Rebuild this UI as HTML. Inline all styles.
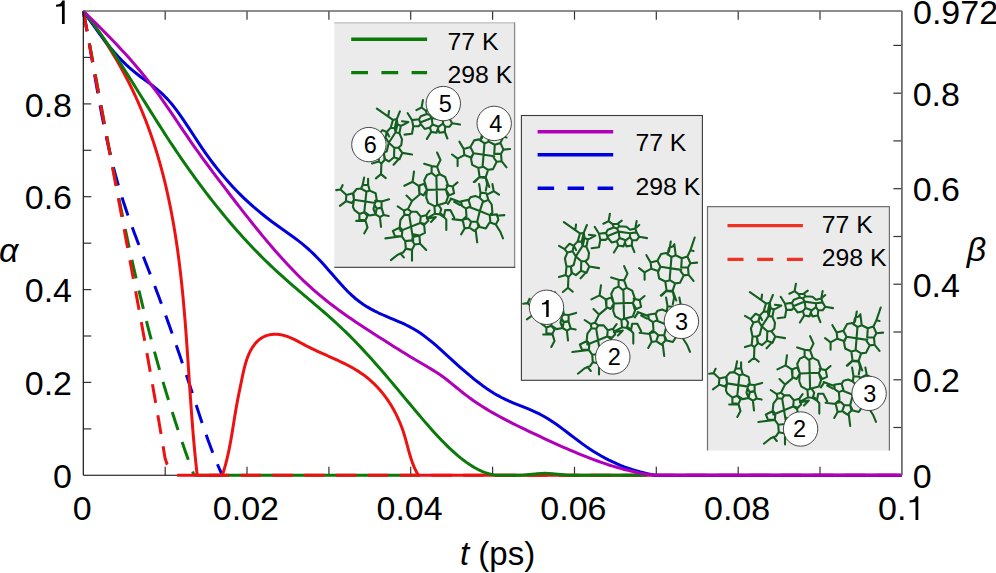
<!DOCTYPE html>
<html><head><meta charset="utf-8"><style>
html,body{margin:0;padding:0;background:#fff;overflow:hidden;}
svg{display:block;}
</style></head><body>
<svg width="996" height="573" viewBox="0 0 996 573">
<rect width="996" height="573" fill="#fff"/>
<g stroke="#333" stroke-width="1.2"><line x1="165.2" y1="475.3" x2="165.2" y2="466.8"/><line x1="165.2" y1="11.0" x2="165.2" y2="19.7"/><line x1="247.0" y1="475.3" x2="247.0" y2="466.8"/><line x1="247.0" y1="11.0" x2="247.0" y2="19.7"/><line x1="328.9" y1="475.3" x2="328.9" y2="466.8"/><line x1="328.9" y1="11.0" x2="328.9" y2="19.7"/><line x1="410.7" y1="475.3" x2="410.7" y2="466.8"/><line x1="410.7" y1="11.0" x2="410.7" y2="19.7"/><line x1="492.6" y1="475.3" x2="492.6" y2="466.8"/><line x1="492.6" y1="11.0" x2="492.6" y2="19.7"/><line x1="574.5" y1="475.3" x2="574.5" y2="466.8"/><line x1="574.5" y1="11.0" x2="574.5" y2="19.7"/><line x1="656.3" y1="475.3" x2="656.3" y2="466.8"/><line x1="656.3" y1="11.0" x2="656.3" y2="19.7"/><line x1="738.2" y1="475.3" x2="738.2" y2="466.8"/><line x1="738.2" y1="11.0" x2="738.2" y2="19.7"/><line x1="820.0" y1="475.3" x2="820.0" y2="466.8"/><line x1="820.0" y1="11.0" x2="820.0" y2="19.7"/><line x1="83.3" y1="428.9" x2="91.3" y2="428.9"/><line x1="83.3" y1="382.4" x2="91.3" y2="382.4"/><line x1="83.3" y1="336.0" x2="91.3" y2="336.0"/><line x1="83.3" y1="289.6" x2="91.3" y2="289.6"/><line x1="83.3" y1="243.2" x2="91.3" y2="243.2"/><line x1="83.3" y1="196.7" x2="91.3" y2="196.7"/><line x1="83.3" y1="150.3" x2="91.3" y2="150.3"/><line x1="83.3" y1="103.9" x2="91.3" y2="103.9"/><line x1="83.3" y1="57.4" x2="91.3" y2="57.4"/><line x1="901.9" y1="427.5" x2="893.4" y2="427.5"/><line x1="901.9" y1="379.8" x2="893.4" y2="379.8"/><line x1="901.9" y1="332.0" x2="893.4" y2="332.0"/><line x1="901.9" y1="284.2" x2="893.4" y2="284.2"/><line x1="901.9" y1="236.5" x2="893.4" y2="236.5"/><line x1="901.9" y1="188.7" x2="893.4" y2="188.7"/><line x1="901.9" y1="140.9" x2="893.4" y2="140.9"/><line x1="901.9" y1="93.2" x2="893.4" y2="93.2"/><line x1="901.9" y1="45.4" x2="893.4" y2="45.4"/></g>
<line x1="83.3" y1="475.3" x2="901.9" y2="475.3" stroke="#000" stroke-width="1.1"/>
<path d="M83.30,11.00 L84.04,14.90 L84.77,18.80 L85.50,22.71 L86.22,26.61 L86.92,30.51 L87.62,34.41 L88.31,38.31 L89.00,42.21 L89.68,46.12 L90.36,50.02 L91.03,53.92 L91.70,57.82 L92.37,61.72 L93.04,65.62 L93.71,69.53 L94.38,73.43 L95.05,77.33 L95.73,81.23 L96.41,85.13 L97.09,89.03 L97.79,92.94 L98.49,96.84 L99.19,100.74 L99.91,104.64 L100.64,108.54 L101.37,112.44 L102.12,116.35 L102.88,120.25 L103.66,124.15 L104.45,128.05 L105.26,131.95 L106.08,135.85 L106.92,139.76 L107.78,143.66 L108.66,147.56 L109.56,151.46 L110.48,155.36 L111.42,159.26 L112.39,163.17 L113.38,167.07 L114.40,170.97 L115.44,174.87 L116.51,178.77 L117.61,182.67 L118.73,186.58 L119.89,190.48 L121.08,194.38 L122.30,198.28 L123.55,202.18 L124.83,206.08 L126.14,209.99 L127.48,213.89 L128.85,217.79 L130.23,221.69 L131.64,225.59 L133.07,229.49 L134.52,233.40 L135.98,237.30 L137.45,241.20 L138.94,245.10 L140.44,249.00 L141.94,252.90 L143.45,256.81 L144.96,260.71 L146.48,264.61 L148.00,268.51 L149.51,272.41 L151.02,276.31 L152.53,280.22 L154.02,284.12 L155.51,288.02 L156.99,291.92 L158.46,295.82 L159.91,299.72 L161.36,303.63 L162.80,307.53 L164.23,311.43 L165.65,315.33 L167.06,319.23 L168.46,323.13 L169.86,327.04 L171.24,330.94 L172.62,334.84 L173.99,338.74 L175.35,342.64 L176.70,346.54 L178.05,350.45 L179.39,354.35 L180.72,358.25 L182.04,362.15 L183.36,366.05 L184.67,369.95 L185.98,373.86 L187.28,377.76 L188.57,381.66 L189.86,385.56 L191.14,389.46 L192.42,393.36 L193.69,397.27 L194.96,401.17 L196.22,405.07 L197.49,408.97 L198.77,412.87 L200.05,416.77 L201.34,420.68 L202.65,424.58 L203.98,428.48 L205.32,432.38 L206.69,436.28 L208.08,440.18 L209.51,444.09 L210.96,447.99 L212.45,451.89 L213.98,455.79 L215.55,459.69 L217.16,463.59 L218.82,467.50 L220.53,471.40 L222.30,475.30" fill="none" stroke="#0000dd" stroke-width="3" stroke-dasharray="19 12.5" stroke-dashoffset="-1.5" stroke-linejoin="round"/>
<path d="M83.30,11.00 L84.03,14.90 L84.78,18.80 L85.53,22.71 L86.28,26.61 L87.02,30.51 L87.76,34.41 L88.50,38.31 L89.24,42.21 L89.98,46.12 L90.71,50.02 L91.44,53.92 L92.17,57.82 L92.90,61.72 L93.63,65.62 L94.36,69.53 L95.09,73.43 L95.82,77.33 L96.54,81.23 L97.27,85.13 L98.00,89.03 L98.72,92.94 L99.45,96.84 L100.18,100.74 L100.91,104.64 L101.63,108.54 L102.36,112.44 L103.09,116.35 L103.82,120.25 L104.56,124.15 L105.29,128.05 L106.02,131.95 L106.76,135.85 L107.50,139.76 L108.24,143.66 L108.98,147.56 L109.73,151.46 L110.48,155.36 L111.23,159.26 L111.98,163.17 L112.73,167.07 L113.49,170.97 L114.25,174.87 L115.02,178.77 L115.79,182.67 L116.56,186.58 L117.33,190.48 L118.11,194.38 L118.90,198.28 L119.68,202.18 L120.48,206.08 L121.27,209.99 L122.07,213.89 L122.88,217.79 L123.69,221.69 L124.51,225.59 L125.33,229.49 L126.15,233.40 L126.98,237.30 L127.82,241.20 L128.67,245.10 L129.51,249.00 L130.37,252.90 L131.23,256.81 L132.10,260.71 L132.97,264.61 L133.85,268.51 L134.74,272.41 L135.64,276.31 L136.54,280.22 L137.45,284.12 L138.37,288.02 L139.29,291.92 L140.22,295.82 L141.16,299.72 L142.11,303.63 L143.07,307.53 L144.03,311.43 L145.00,315.33 L145.98,319.23 L146.97,323.13 L147.97,327.04 L148.98,330.94 L150.00,334.84 L151.03,338.74 L152.06,342.64 L153.11,346.54 L154.16,350.45 L155.23,354.35 L156.30,358.25 L157.39,362.15 L158.49,366.05 L159.59,369.95 L160.71,373.86 L161.84,377.76 L162.98,381.66 L164.13,385.56 L165.29,389.46 L166.46,393.36 L167.65,397.27 L168.84,401.17 L170.05,405.07 L171.27,408.97 L172.50,412.87 L173.75,416.77 L175.00,420.68 L176.27,424.58 L177.55,428.48 L178.85,432.38 L180.16,436.28 L181.48,440.18 L182.81,444.09 L184.16,447.99 L185.52,451.89 L186.90,455.79 L188.29,459.69 L189.69,463.59 L191.11,467.50 L192.54,471.40 L194.00,475.30" fill="none" stroke="#0a7a0a" stroke-width="3" stroke-dasharray="19 12.5" stroke-dashoffset="-1.5" stroke-linejoin="round"/>
<line x1="194" y1="475.3" x2="418" y2="475.3" stroke="#0a7a0a" stroke-width="3"/>
<path d="M83.30,11.00 L83.96,14.67 L84.63,18.34 L85.30,22.02 L85.98,25.69 L86.65,29.36 L87.33,33.03 L88.01,36.71 L88.69,40.38 L89.37,44.05 L90.05,47.72 L90.73,51.39 L91.41,55.07 L92.09,58.74 L92.77,62.41 L93.46,66.08 L94.14,69.76 L94.83,73.43 L95.51,77.10 L96.20,80.77 L96.89,84.45 L97.57,88.12 L98.26,91.79 L98.95,95.46 L99.64,99.13 L100.33,102.81 L101.02,106.48 L101.71,110.15 L102.40,113.82 L103.09,117.50 L103.78,121.17 L104.47,124.84 L105.16,128.51 L105.85,132.18 L106.54,135.86 L107.23,139.53 L107.93,143.20 L108.62,146.87 L109.31,150.55 L110.00,154.22 L110.69,157.89 L111.39,161.56 L112.08,165.24 L112.77,168.91 L113.46,172.58 L114.15,176.25 L114.85,179.92 L115.54,183.60 L116.23,187.27 L116.92,190.94 L117.61,194.61 L118.30,198.29 L118.99,201.96 L119.68,205.63 L120.37,209.30 L121.06,212.97 L121.75,216.65 L122.44,220.32 L123.13,223.99 L123.82,227.66 L124.51,231.34 L125.20,235.01 L125.88,238.68 L126.57,242.35 L127.25,246.03 L127.94,249.70 L128.62,253.37 L129.31,257.04 L129.99,260.71 L130.67,264.39 L131.36,268.06 L132.04,271.73 L132.72,275.40 L133.40,279.08 L134.08,282.75 L134.75,286.42 L135.43,290.09 L136.11,293.76 L136.78,297.44 L137.46,301.11 L138.13,304.78 L138.80,308.45 L139.48,312.13 L140.15,315.80 L140.82,319.47 L141.48,323.14 L142.15,326.82 L142.82,330.49 L143.48,334.16 L144.15,337.83 L144.81,341.50 L145.47,345.18 L146.13,348.85 L146.79,352.52 L147.45,356.19 L148.11,359.87 L148.76,363.54 L149.41,367.21 L150.07,370.88 L150.72,374.55 L151.37,378.23 L152.02,381.90 L152.66,385.57 L153.31,389.24 L153.95,392.92 L154.59,396.59 L155.23,400.26 L155.87,403.93 L156.51,407.61 L157.14,411.28 L157.78,414.95 L158.41,418.62 L159.04,422.29 L159.67,425.97 L160.30,429.64 L160.92,433.31 L161.54,436.98 L162.17,440.66 L162.78,444.33 L163.40,448.00 L165.00,458.00 L167.00,464.00 L169.50,467.80" fill="none" stroke="#ee1111" stroke-width="3" stroke-dasharray="19 12.5" stroke-dashoffset="-1.5" stroke-linejoin="round"/>
<line x1="176" y1="475.3" x2="901.9" y2="475.3" stroke="#ee1111" stroke-width="3" stroke-dasharray="20.3 11.5" stroke-dashoffset="-1.1"/>
<path d="M83.30,11.00 L85.72,14.12 L88.09,17.23 L90.42,20.35 L92.70,23.46 L94.95,26.58 L97.15,29.70 L99.32,32.81 L101.44,35.93 L103.53,39.04 L105.58,42.16 L107.59,45.28 L109.56,48.39 L111.50,51.51 L113.40,54.63 L115.26,57.74 L117.09,60.86 L118.88,63.97 L120.63,67.09 L122.35,70.21 L124.04,73.32 L125.69,76.44 L127.31,79.55 L128.90,82.67 L130.46,85.79 L131.98,88.90 L133.47,92.02 L134.93,95.13 L136.36,98.25 L137.76,101.37 L139.13,104.48 L140.47,107.60 L141.78,110.72 L143.06,113.83 L144.31,116.95 L145.54,120.06 L146.74,123.18 L147.91,126.30 L149.06,129.41 L150.18,132.53 L151.27,135.64 L152.34,138.76 L153.39,141.88 L154.41,144.99 L155.40,148.11 L156.38,151.22 L157.33,154.34 L158.26,157.46 L159.16,160.57 L160.05,163.69 L160.91,166.81 L161.75,169.92 L162.58,173.04 L163.38,176.15 L164.16,179.27 L164.93,182.39 L165.67,185.50 L166.40,188.62 L167.11,191.73 L167.80,194.85 L168.48,197.97 L169.14,201.08 L169.78,204.20 L170.41,207.31 L171.02,210.43 L171.62,213.55 L172.20,216.66 L172.77,219.78 L173.32,222.90 L173.86,226.01 L174.39,229.13 L174.90,232.24 L175.40,235.36 L175.88,238.48 L176.36,241.59 L176.82,244.71 L177.27,247.82 L177.71,250.94 L178.13,254.06 L178.55,257.17 L178.95,260.29 L179.35,263.40 L179.73,266.52 L180.10,269.64 L180.47,272.75 L180.82,275.87 L181.17,278.99 L181.51,282.10 L181.83,285.22 L182.15,288.33 L182.47,291.45 L182.77,294.57 L183.07,297.68 L183.36,300.80 L183.64,303.91 L183.92,307.03 L184.19,310.15 L184.45,313.26 L184.71,316.38 L184.97,319.49 L185.22,322.61 L185.46,325.73 L185.70,328.84 L185.93,331.96 L186.17,335.08 L186.39,338.19 L186.62,341.31 L186.84,344.42 L187.06,347.54 L187.28,350.66 L187.49,353.77 L187.70,356.89 L187.91,360.00 L188.12,363.12 L188.33,366.24 L188.54,369.35 L188.74,372.47 L188.95,375.58 L189.16,378.70 L189.37,381.82 L189.57,384.93 L189.78,388.05 L189.99,391.17 L190.21,394.28 L190.42,397.40 L190.64,400.51 L190.86,403.63 L191.08,406.75 L191.30,409.86 L191.53,412.98 L191.76,416.09 L192.00,419.21 L192.24,422.33 L192.48,425.44 L192.73,428.56 L192.98,431.67 L193.24,434.79 L193.51,437.91 L193.78,441.02 L194.05,444.14 L194.34,447.26 L194.63,450.37 L194.92,453.49 L195.23,456.60 L195.54,459.72 L195.86,462.84 L196.19,465.95 L196.52,469.07 L196.87,472.18 L197.20,475.30" fill="none" stroke="#ee1111" stroke-width="3" stroke-linejoin="round"/>
<line x1="197" y1="475.3" x2="223" y2="475.3" stroke="#ee1111" stroke-width="3"/>
<path d="M222.30,475.30 L222.89,473.52 L223.46,471.74 L224.01,469.94 L224.55,468.15 L225.06,466.34 L225.56,464.53 L226.04,462.71 L226.50,460.88 L226.95,459.05 L227.39,457.22 L227.81,455.38 L228.22,453.54 L228.61,451.69 L229.00,449.84 L229.37,447.99 L229.74,446.13 L230.09,444.27 L230.44,442.41 L230.77,440.55 L231.10,438.69 L231.43,436.82 L231.75,434.95 L232.06,433.09 L232.37,431.22 L232.67,429.36 L232.98,427.49 L233.28,425.63 L233.57,423.76 L233.87,421.90 L234.17,420.04 L234.47,418.19 L234.77,416.33 L235.07,414.48 L235.38,412.63 L235.69,410.79 L236.00,408.95 L236.32,407.12 L236.65,405.29 L236.98,403.46 L237.32,401.64 L237.66,399.82 L238.01,398.01 L238.37,396.20 L238.73,394.38 L239.09,392.57 L239.46,390.75 L239.83,388.93 L240.21,387.11 L240.59,385.28 L240.97,383.45 L241.36,381.61 L241.75,379.76 L242.13,377.90 L242.53,376.03 L242.92,374.15 L243.33,372.27 L243.76,370.39 L244.20,368.51 L244.67,366.64 L245.17,364.77 L245.70,362.91 L246.26,361.06 L246.87,359.23 L247.52,357.42 L248.23,355.63 L248.98,353.86 L249.80,352.12 L250.68,350.41 L251.62,348.74 L252.63,347.12 L253.70,345.56 L254.84,344.06 L256.05,342.64 L257.33,341.31 L258.67,340.07 L260.08,338.94 L261.56,337.93 L263.12,337.04 L264.74,336.27 L266.41,335.64 L268.14,335.13 L269.91,334.74 L271.70,334.46 L273.52,334.30 L275.35,334.25 L277.18,334.31 L279.00,334.48 L280.81,334.75 L282.60,335.11 L284.37,335.56 L286.12,336.10 L287.86,336.70 L289.59,337.38 L291.30,338.11 L293.01,338.89 L294.71,339.71 L296.41,340.56 L298.10,341.44 L299.80,342.34 L301.49,343.25 L303.19,344.17 L304.89,345.08 L306.60,345.97 L308.31,346.85 L310.04,347.71 L311.77,348.56 L313.50,349.39 L315.24,350.21 L316.98,351.03 L318.73,351.83 L320.47,352.62 L322.22,353.41 L323.97,354.19 L325.72,354.97 L327.46,355.75 L329.21,356.53 L330.95,357.30 L332.68,358.08 L334.41,358.86 L336.14,359.65 L337.85,360.44 L339.56,361.24 L341.27,362.04 L342.96,362.86 L344.64,363.69 L346.31,364.53 L347.97,365.38 L349.62,366.26 L351.26,367.14 L352.88,368.05 L354.48,368.97 L356.07,369.92 L357.64,370.89 L359.20,371.88 L360.73,372.90 L362.25,373.94 L363.74,375.01 L365.22,376.11 L366.67,377.24 L368.10,378.40 L369.51,379.58 L370.90,380.80 L372.27,382.04 L373.61,383.31 L374.93,384.61 L376.23,385.93 L377.51,387.28 L378.76,388.65 L379.99,390.04 L381.20,391.46 L382.38,392.90 L383.54,394.36 L384.68,395.85 L385.80,397.35 L386.89,398.88 L387.96,400.42 L389.00,401.98 L390.02,403.56 L391.02,405.16 L391.99,406.78 L392.94,408.41 L393.86,410.06 L394.76,411.72 L395.63,413.40 L396.48,415.09 L397.31,416.80 L398.11,418.52 L398.89,420.25 L399.64,421.99 L400.36,423.74 L401.06,425.51 L401.74,427.28 L402.39,429.06 L403.01,430.85 L403.61,432.65 L404.18,434.46 L404.73,436.27 L405.26,438.09 L405.77,439.91 L406.28,441.73 L406.77,443.56 L407.26,445.39 L407.75,447.21 L408.24,449.03 L408.74,450.85 L409.25,452.67 L409.77,454.47 L410.31,456.28 L410.87,458.07 L411.45,459.86 L412.06,461.63 L412.71,463.39 L413.38,465.14 L414.10,466.88 L414.86,468.60 L415.67,470.30 L416.53,471.98 L417.44,473.65 L418.40,475.30" fill="none" stroke="#ee1111" stroke-width="3" stroke-linejoin="round"/>
<line x1="417" y1="475.3" x2="901.9" y2="475.3" stroke="#ee1111" stroke-width="3"/>
<path d="M83.30,11.00 L87.14,16.43 L90.97,21.86 L94.81,27.23 L98.65,32.52 L102.48,37.67 L106.32,42.67 L110.16,47.46 L114.00,52.02 L117.83,56.31 L121.67,60.33 L125.51,64.11 L129.34,67.65 L133.18,70.95 L137.02,74.04 L140.85,76.97 L144.69,79.81 L148.53,82.64 L152.36,85.54 L156.20,88.59 L160.04,91.86 L163.88,95.43 L167.71,99.38 L171.55,103.79 L175.39,108.64 L179.22,113.86 L183.06,119.38 L186.90,125.09 L190.73,130.93 L194.57,136.80 L198.41,142.63 L202.24,148.33 L206.08,153.83 L209.92,159.13 L213.76,164.23 L217.59,169.13 L221.43,173.85 L225.27,178.38 L229.10,182.74 L232.94,186.94 L236.78,190.97 L240.61,194.85 L244.45,198.59 L248.29,202.18 L252.12,205.64 L255.96,208.98 L259.80,212.19 L263.63,215.29 L267.47,218.29 L271.31,221.18 L275.15,223.99 L278.98,226.74 L282.82,229.45 L286.66,232.17 L290.49,234.92 L294.33,237.74 L298.17,240.65 L302.00,243.68 L305.84,246.87 L309.68,250.25 L313.51,253.85 L317.35,257.70 L321.19,261.78 L325.03,266.05 L328.86,270.42 L332.70,274.85 L336.54,279.25 L340.37,283.57 L344.21,287.75 L348.05,291.71 L351.88,295.40 L355.72,298.75 L359.56,301.76 L363.39,304.47 L367.23,306.91 L371.07,309.12 L374.91,311.14 L378.74,313.01 L382.58,314.75 L386.42,316.41 L390.25,318.03 L394.09,319.63 L397.93,321.26 L401.76,322.95 L405.60,324.73 L409.44,326.66 L413.27,328.75 L417.11,331.05 L420.95,333.59 L424.79,336.35 L428.62,339.32 L432.46,342.45 L436.30,345.71 L440.13,349.09 L443.97,352.54 L447.81,356.04 L451.64,359.56 L455.48,363.07 L459.32,366.53 L463.15,369.92 L466.99,373.23 L470.83,376.45 L474.67,379.56 L478.50,382.55 L482.34,385.42 L486.18,388.15 L490.01,390.74 L493.85,393.17 L497.69,395.44 L501.52,397.53 L505.36,399.44 L509.20,401.20 L513.03,402.84 L516.87,404.40 L520.71,405.92 L524.54,407.43 L528.38,408.98 L532.22,410.60 L536.06,412.33 L539.89,414.20 L543.73,416.25 L547.57,418.51 L551.40,420.96 L555.24,423.58 L559.08,426.32 L562.91,429.15 L566.75,432.05 L570.59,434.98 L574.42,437.90 L578.26,440.79 L582.10,443.62 L585.94,446.35 L589.77,448.95 L593.61,451.42 L597.45,453.77 L601.28,455.99 L605.12,458.09 L608.96,460.07 L612.79,461.93 L616.63,463.67 L620.47,465.29 L624.30,466.80 L628.14,468.20 L631.98,469.49 L635.82,470.68 L639.65,471.78 L643.49,472.78 L647.33,473.70 L651.16,474.54 L655.00,475.30 L901.9,475.3" fill="none" stroke="#0000dd" stroke-width="3" stroke-linejoin="round"/>
<path d="M83.30,11.00 L86.10,14.47 L88.89,18.04 L91.69,21.70 L94.49,25.44 L97.28,29.27 L100.08,33.17 L102.88,37.15 L105.67,41.19 L108.47,45.29 L111.27,49.46 L114.06,53.67 L116.86,57.93 L119.66,62.24 L122.45,66.58 L125.25,70.96 L128.05,75.36 L130.84,79.80 L133.64,84.25 L136.44,88.71 L139.23,93.19 L142.03,97.67 L144.83,102.15 L147.62,106.62 L150.42,111.09 L153.22,115.55 L156.01,119.98 L158.81,124.39 L161.61,128.78 L164.40,133.13 L167.20,137.45 L170.00,141.72 L172.79,145.95 L175.59,150.13 L178.39,154.26 L181.18,158.35 L183.98,162.39 L186.78,166.39 L189.57,170.34 L192.37,174.24 L195.17,178.10 L197.96,181.92 L200.76,185.69 L203.56,189.41 L206.35,193.09 L209.15,196.73 L211.95,200.32 L214.74,203.86 L217.54,207.37 L220.34,210.82 L223.13,214.24 L225.93,217.61 L228.73,220.93 L231.52,224.21 L234.32,227.45 L237.12,230.65 L239.91,233.80 L242.71,236.90 L245.51,239.97 L248.30,242.99 L251.10,245.97 L253.90,248.91 L256.69,251.80 L259.49,254.65 L262.29,257.46 L265.08,260.23 L267.88,262.95 L270.68,265.63 L273.47,268.27 L276.27,270.87 L279.07,273.43 L281.86,275.96 L284.66,278.45 L287.46,280.91 L290.25,283.36 L293.05,285.77 L295.84,288.18 L298.64,290.56 L301.44,292.94 L304.23,295.31 L307.03,297.68 L309.83,300.04 L312.62,302.41 L315.42,304.79 L318.22,307.18 L321.01,309.58 L323.81,312.00 L326.61,314.44 L329.40,316.90 L332.20,319.40 L335.00,321.92 L337.79,324.49 L340.59,327.09 L343.39,329.73 L346.18,332.42 L348.98,335.16 L351.78,337.95 L354.57,340.79 L357.37,343.69 L360.17,346.63 L362.96,349.62 L365.76,352.65 L368.56,355.71 L371.35,358.82 L374.15,361.96 L376.95,365.14 L379.74,368.34 L382.54,371.57 L385.34,374.83 L388.13,378.10 L390.93,381.40 L393.73,384.71 L396.52,388.04 L399.32,391.38 L402.12,394.73 L404.91,398.09 L407.71,401.44 L410.51,404.80 L413.30,408.15 L416.10,411.49 L418.90,414.81 L421.69,418.10 L424.49,421.36 L427.29,424.59 L430.08,427.77 L432.88,430.90 L435.68,433.98 L438.47,436.99 L441.27,439.94 L444.07,442.81 L446.86,445.60 L449.66,448.30 L452.46,450.92 L455.25,453.43 L458.05,455.84 L460.85,458.14 L463.64,460.32 L466.44,462.38 L469.24,464.31 L472.03,466.11 L474.83,467.77 L477.63,469.27 L480.42,470.63 L483.22,471.82 L486.02,472.85 L488.81,473.71 L491.61,474.39 L494.41,474.89 L497.20,475.20 L500.00,475.30 L522.0,475.3" fill="none" stroke="#0a7a0a" stroke-width="3" stroke-linejoin="round"/>
<path d="M522.0,475.3 C524.2,475.1 531.2,474.4 535.0,474.0 C538.8,473.6 541.7,473.2 545.0,473.2 C548.3,473.2 551.2,473.6 555.0,474.0 C558.8,474.4 565.8,475.1 568.0,475.3 L647.0,475.3" fill="none" stroke="#0a7a0a" stroke-width="3" stroke-linejoin="round"/>
<path d="M83.30,11.00 L87.14,14.77 L90.97,18.54 L94.81,22.32 L98.65,26.13 L102.48,29.97 L106.32,33.85 L110.16,37.77 L114.00,41.75 L117.83,45.79 L121.67,49.90 L125.51,54.09 L129.34,58.37 L133.18,62.73 L137.02,67.20 L140.85,71.79 L144.69,76.48 L148.53,81.31 L152.36,86.26 L156.20,91.36 L160.04,96.61 L163.88,102.01 L167.71,107.54 L171.55,113.17 L175.39,118.86 L179.22,124.57 L183.06,130.29 L186.90,135.96 L190.73,141.57 L194.57,147.07 L198.41,152.47 L202.24,157.77 L206.08,163.00 L209.92,168.17 L213.76,173.28 L217.59,178.36 L221.43,183.42 L225.27,188.46 L229.10,193.49 L232.94,198.49 L236.78,203.47 L240.61,208.41 L244.45,213.32 L248.29,218.19 L252.12,223.01 L255.96,227.78 L259.80,232.49 L263.63,237.14 L267.47,241.73 L271.31,246.24 L275.15,250.68 L278.98,255.04 L282.82,259.31 L286.66,263.49 L290.49,267.57 L294.33,271.56 L298.17,275.44 L302.00,279.21 L305.84,282.87 L309.68,286.40 L313.51,289.83 L317.35,293.15 L321.19,296.37 L325.03,299.50 L328.86,302.55 L332.70,305.51 L336.54,308.39 L340.37,311.21 L344.21,313.96 L348.05,316.66 L351.88,319.30 L355.72,321.90 L359.56,324.47 L363.39,326.99 L367.23,329.50 L371.07,331.98 L374.91,334.45 L378.74,336.91 L382.58,339.36 L386.42,341.81 L390.25,344.24 L394.09,346.67 L397.93,349.08 L401.76,351.47 L405.60,353.84 L409.44,356.19 L413.27,358.51 L417.11,360.80 L420.95,363.06 L424.79,365.30 L428.62,367.56 L432.46,369.87 L436.30,372.28 L440.13,374.83 L443.97,377.54 L447.81,380.47 L451.64,383.58 L455.48,386.77 L459.32,389.94 L463.15,393.00 L466.99,395.93 L470.83,398.74 L474.67,401.43 L478.50,404.02 L482.34,406.50 L486.18,408.89 L490.01,411.19 L493.85,413.41 L497.69,415.56 L501.52,417.65 L505.36,419.68 L509.20,421.65 L513.03,423.59 L516.87,425.48 L520.71,427.35 L524.54,429.19 L528.38,431.03 L532.22,432.85 L536.06,434.66 L539.89,436.47 L543.73,438.27 L547.57,440.05 L551.40,441.82 L555.24,443.58 L559.08,445.31 L562.91,447.02 L566.75,448.70 L570.59,450.36 L574.42,451.99 L578.26,453.59 L582.10,455.15 L585.94,456.68 L589.77,458.17 L593.61,459.61 L597.45,461.02 L601.28,462.38 L605.12,463.69 L608.96,464.95 L612.79,466.16 L616.63,467.31 L620.47,468.41 L624.30,469.44 L628.14,470.42 L631.98,471.33 L635.82,472.17 L639.65,472.95 L643.49,473.65 L647.33,474.28 L651.16,474.83 L655.00,475.30 L901.9,475.3" fill="none" stroke="#b000b8" stroke-width="3" stroke-linejoin="round"/>
<line x1="83.3" y1="11.0" x2="83.3" y2="475.3" stroke="#111" stroke-width="1.2"/>
<line x1="83.3" y1="11.0" x2="901.9" y2="11.0" stroke="#666" stroke-width="1.6"/>
<line x1="901.9" y1="11.0" x2="901.9" y2="475.3" stroke="#666" stroke-width="1.7"/>
<rect x="334.3" y="22.4" width="180.4" height="245" fill="#ebebeb"/><line x1="334.3" y1="22.9" x2="514.7" y2="22.9" stroke="#b2b2b2" stroke-width="1"/><line x1="514.6" y1="22.4" x2="514.6" y2="267.9" stroke="#8a8a8a" stroke-width="1.3"/><line x1="334.3" y1="267.4" x2="515.2" y2="267.4" stroke="#505050" stroke-width="1.1"/>
<rect x="521.4" y="115.5" width="181" height="264.8" fill="#ebebeb" stroke="#3a3a3a" stroke-width="1.1"/>
<rect x="707.5" y="206.6" width="181.9" height="244" fill="#ebebeb"/><path d="M707.5,450.6 V206.6 H889.4 V450.6" fill="none" stroke="#707070" stroke-width="1.2"/>
<line x1="351.2" y1="39.2" x2="427.1" y2="39.2" stroke="#0a7a0a" stroke-width="3.4"/>
<line x1="351.2" y1="72.6" x2="427.1" y2="72.6" stroke="#0a7a0a" stroke-width="3.4" stroke-dasharray="16.8 13.4"/>
<line x1="537.6" y1="131.8" x2="613.2" y2="131.8" stroke="#b000b8" stroke-width="3.4"/>
<line x1="537.6" y1="154.8" x2="613.2" y2="154.8" stroke="#0000dd" stroke-width="3.4"/>
<line x1="537.6" y1="188.2" x2="613.2" y2="188.2" stroke="#0000dd" stroke-width="3.4" stroke-dasharray="16.5 13.5"/>
<line x1="727.5" y1="225.6" x2="802.9" y2="225.6" stroke="#ee3322" stroke-width="3.4"/>
<line x1="727.5" y1="259.4" x2="802.9" y2="259.4" stroke="#ee3322" stroke-width="3.4" stroke-dasharray="16 13.7"/>
<text x="447.5" y="50" font-family="Liberation Sans" font-size="24.8" text-anchor="start" >77 K</text>
<text x="447.5" y="83.4" font-family="Liberation Sans" font-size="24.8" text-anchor="start" >298 K</text>
<text x="635.4" y="151.1" font-family="Liberation Sans" font-size="24.8" text-anchor="start" >77 K</text>
<text x="635.4" y="194.5" font-family="Liberation Sans" font-size="24.8" text-anchor="start" >298 K</text>
<text x="821.7" y="232.9" font-family="Liberation Sans" font-size="24.8" text-anchor="start" >77 K</text>
<text x="821.7" y="266.3" font-family="Liberation Sans" font-size="24.8" text-anchor="start" >298 K</text>
<text x="878.1" y="520.2" font-family="Liberation Sans" font-size="34" text-anchor="start" >0.</text>
<path d="M918.30,496.30 L918.30,520.00 L915.50,520.00 L915.50,502.11 C912.87,502.34 911.28,502.51 909.53,502.58 L909.53,500.52 C913.48,500.33 915.20,498.67 915.78,496.30 Z" fill="#000"/>
<text x="82.2" y="520.2" font-family="Liberation Sans" font-size="34" text-anchor="middle" >0</text>
<text x="245.9" y="520.2" font-family="Liberation Sans" font-size="34" text-anchor="middle" >0.02</text>
<text x="409.6" y="520.2" font-family="Liberation Sans" font-size="34" text-anchor="middle" >0.04</text>
<text x="573.4" y="520.2" font-family="Liberation Sans" font-size="34" text-anchor="middle" >0.06</text>
<text x="737.1" y="520.2" font-family="Liberation Sans" font-size="34" text-anchor="middle" >0.08</text>
<path d="M64.70,0.50 L64.70,23.90 L61.94,23.90 L61.94,6.23 C59.34,6.47 57.77,6.63 56.04,6.70 L56.04,4.67 C59.94,4.48 61.64,2.84 62.21,0.50 Z" fill="#000"/>
<text x="72" y="488.0" font-family="Liberation Sans" font-size="34" text-anchor="end" >0</text>
<text x="72" y="395.1" font-family="Liberation Sans" font-size="34" text-anchor="end" >0.2</text>
<text x="72" y="302.3" font-family="Liberation Sans" font-size="34" text-anchor="end" >0.4</text>
<text x="72" y="209.4" font-family="Liberation Sans" font-size="34" text-anchor="end" >0.6</text>
<text x="72" y="116.6" font-family="Liberation Sans" font-size="34" text-anchor="end" >0.8</text>
<text x="912.7" y="487.8" font-family="Liberation Sans" font-size="34" text-anchor="start" >0</text>
<text x="912.7" y="392.3" font-family="Liberation Sans" font-size="34" text-anchor="start" >0.2</text>
<text x="912.7" y="296.7" font-family="Liberation Sans" font-size="34" text-anchor="start" >0.4</text>
<text x="912.7" y="201.2" font-family="Liberation Sans" font-size="34" text-anchor="start" >0.6</text>
<text x="912.7" y="105.7" font-family="Liberation Sans" font-size="34" text-anchor="start" >0.8</text>
<text x="913" y="24" font-family="Liberation Sans" font-size="34" text-anchor="start" >0.972</text>
<text x="-1" y="261.6" font-family="Liberation Sans" font-size="34" text-anchor="start" font-style="italic">&#945;</text>
<text x="966.7" y="261.4" font-family="Liberation Sans" font-size="34" text-anchor="start" font-style="italic">&#946;</text>
<text x="460" y="565" font-family="Liberation Sans" font-size="33"><tspan font-style="italic">t</tspan> (ps)</text>
<defs><g id="mols" fill="none" stroke="#145e20" stroke-width="2.1" stroke-linejoin="round" stroke-linecap="round"><path d="M42.9,22.2 L59.3,33.7 M55.0,24.6 L54.5,28.8 M65.9,25.0 L62.8,32.7 M58.9,33.7 L62.8,32.7 L60.7,41.8 L56.7,41.4 L58.9,33.7 M63.5,37.9 L66.8,39.5 L65.4,46.8 L61.6,45.9 L63.5,37.9 M62.8,32.7 L63.5,37.9 M60.7,41.8 L61.6,45.9 M68.0,34.8 L74.3,35.6 L69.3,38.4 L66.8,39.5 M43.6,49.1 L48.5,43.7 L52.7,45.6 L51.6,51.2 L46.4,52.6 L43.6,49.1 M56.7,41.4 L52.7,45.6 M38.0,45.9 L43.6,49.1 M53.0,45.9 L55.1,50.1 M61.6,45.9 L54.8,56.4 M51.6,51.2 L54.8,56.4 L60.3,61.3 L64.5,61.3 M65.4,46.8 L68.0,52.9 L67.3,58.5 L64.5,61.3 M46.4,52.6 L43.9,58.5 L45.0,64.1 M54.8,56.4 L52.7,65.0 M64.5,61.3 L68.3,66.5 L65.5,72.8 L60.0,70.8 L60.3,61.3 M68.3,66.5 L78.0,68.1 M60.0,70.8 L54.9,75.1 L51.0,72.8 L49.8,66.5 M52.7,65.0 L49.8,66.5 M45.0,64.1 L45.5,66.5 L49.8,66.5 M45.5,66.7 L44.7,75.1 L47.4,77.1 L50.6,73.6 L49.8,66.5 M38.0,77.1 L44.7,75.1 M63.9,73.6 L59.6,78.3 M47.4,77.1 L47.0,87.7 M41.9,92.0 L47.0,87.7 L51.8,91.7 M88.9,13.7 L87.6,21.1 M82.4,23.7 L87.6,21.1 L91.6,24.1 L96.8,23.7 L100.7,20.7 M91.6,24.1 L92.9,27.6 L95.9,28.5 L98.5,26.3 L96.8,23.7 M98.5,26.3 L105.5,26.8 L109.0,29.8 L114.3,28.5 L115.6,21.1 M114.3,28.5 L118.2,25.0 M114.3,28.5 L115.6,32.4 M73.7,26.8 L78.0,33.7 M78.0,33.7 L85.0,32.9 L86.8,37.7 L84.6,39.9 L79.3,39.9 L78.0,33.7 M79.3,39.9 L78.0,47.3 L70.6,48.2 M85.0,32.9 L86.8,29.8 L92.9,27.6 M95.9,28.5 L97.7,31.6 M86.8,35.9 L97.7,31.6 M97.7,31.6 L109.0,33.3 M86.8,37.7 L90.7,42.5 L95.9,41.2 L98.5,38.1 L97.7,31.6 M98.5,38.1 L104.7,40.3 L109.0,37.2 L109.0,33.3 M109.0,33.3 L115.6,32.4 L118.2,36.8 L115.6,40.3 L111.2,40.3 L109.0,37.2 M118.2,36.8 L126.0,38.1 M95.9,41.2 L97.2,45.5 L102.5,46.4 L103.8,42.5 L104.7,40.3 M103.8,42.5 L105.5,46.4 L110.8,45.5 L111.2,40.3 M97.2,45.5 L92.9,52.5 M110.8,45.5 L113.4,52.1 M150.5,56.5 L148.6,80.3 M139.5,66.8 L160.2,69.9 M136.4,60.7 L140.1,54.0 L145.3,53.0 L150.5,57.1 M146.5,54.6 L148.0,47.9 L153.5,45.7 L154.7,55.2 L150.5,57.1 M148.0,51.6 L149.8,41.5 M152.0,46.1 L153.5,44.2 M154.7,55.2 L160.8,58.3 L160.2,67.5 M160.8,58.3 L166.4,56.5 L169.4,63.2 L167.0,67.5 L160.2,67.5 M169.4,63.2 L176.1,62.6 M166.4,56.5 L169.4,50.3 L173.7,37.5 M169.4,50.3 L172.5,51.0 M167.0,67.5 L167.6,74.8 L162.7,75.4 L159.6,71.1 M167.6,74.8 L172.5,80.9 M162.7,75.4 L159.0,82.7 L154.1,83.4 M144.3,81.5 L149.2,80.3 L154.1,83.4 L151.7,90.7 L145.6,90.7 L144.3,81.5 M145.6,90.7 L140.7,95.6 M151.7,90.7 L155.3,100.5 M139.5,66.8 L137.0,72.3 L138.2,78.5 L144.3,81.5 M129.7,62.6 L136.4,60.7 L139.5,66.8 L137.0,71.1 L130.3,68.7 L129.7,62.6 M129.7,62.6 L125.4,55.2 M130.3,68.7 L123.6,72.3 L118.1,68.1 M123.6,72.3 L123.6,79.7 M32.4,105.3 L30.3,125.8 M20.0,113.4 L41.1,116.6 M20.0,113.4 L19.5,106.4 L22.7,102.6 L27.0,102.1 L32.4,105.3 M27.0,102.1 L28.6,98.8 L34.1,98.3 L35.7,104.2 L32.4,105.3 M28.6,98.8 L30.1,91.2 M34.1,98.3 L34.1,92.3 M35.7,104.2 L41.6,106.9 L42.7,113.4 L41.1,116.6 M41.1,114.5 L47.6,115.0 L47.6,121.0 L42.7,122.1 L40.5,118.3 M47.6,115.0 L55.1,112.9 M42.7,122.1 L47.6,121.5 L49.7,128.5 L45.9,130.7 L41.6,128.0 L42.7,122.1 M49.7,128.5 L54.6,129.6 M45.9,130.7 L47.0,140.4 M40.5,118.3 L39.5,122.6 L41.6,128.0 L35.7,129.1 L30.8,125.8 M25.4,127.5 L30.3,125.8 L33.5,129.6 L31.4,133.9 L25.4,133.4 L25.4,127.5 M22.2,134.5 L31.4,134.3 M31.4,133.9 L33.5,141.0 L30.3,146.9 M20.0,113.4 L18.9,120.4 L20.5,123.7 L25.4,127.5 M12.4,108.5 L18.9,106.9 L20.0,113.4 L17.8,116.6 L11.9,114.5 L12.4,108.5 M12.4,108.5 L6.5,103.1 L2.2,103.7 M6.5,103.1 L8.6,98.8 M11.9,115.0 L5.9,119.4 M102.4,90.6 L103.1,118.5 M92.9,103.5 L111.9,102.8 M90.2,77.4 L97.6,79.7 L103.1,80.4 M103.1,80.4 L106.5,73.6 L103.1,66.1 M97.6,79.7 L97.6,86.5 L101.7,89.9 L105.8,87.9 L103.1,80.4 M92.9,103.5 L90.2,94.0 L92.9,88.6 L97.6,86.5 M105.8,87.9 L111.2,90.6 L114.0,98.8 L111.9,102.8 M84.7,99.4 L90.2,97.4 L92.9,103.5 L89.5,109.0 L85.4,106.9 L84.7,99.4 M84.7,99.4 L78.6,95.4 L70.4,99.4 M78.6,95.4 L80.0,85.2 M112.6,98.8 L118.7,100.1 L120.1,106.9 L115.3,109.0 L111.9,103.2 M118.7,100.1 L123.5,96.0 M92.9,103.5 L92.2,111.0 L94.2,116.4 L100.4,119.8 M111.9,103.2 L114.0,110.3 L111.9,116.4 L104.4,118.5 M100.4,119.8 L104.4,118.5 L107.2,122.6 L105.8,128.0 L101.0,127.3 L100.4,119.8 M101.0,127.3 L94.9,130.7 M105.8,128.0 L109.9,130.7 M63.7,120.0 L69.8,124.1 M69.8,124.1 L73.9,122.7 L77.3,125.4 L75.2,128.8 L70.5,128.2 L69.8,124.1 M73.9,122.7 L78.0,114.6 L72.5,109.1 M78.0,114.6 L85.4,108.4 L85.4,99.6 M75.2,128.8 L79.3,154.0 M66.4,144.5 L86.8,136.3 M70.5,128.2 L66.4,133.6 L65.7,140.4 L68.4,143.8 M77.3,125.4 L82.7,125.4 L86.8,130.2 L86.1,136.3 M86.8,130.2 L92.2,128.8 L94.3,134.3 L90.9,137.7 L86.1,136.3 M92.2,128.8 L95.6,124.1 M92.9,132.2 L101.8,130.6 L97.0,135.6 M86.1,136.3 L90.2,139.0 L90.9,146.5 L85.4,149.2 L79.3,147.9 M58.9,144.5 L64.4,141.8 L68.4,143.8 L67.8,149.9 L61.0,149.9 L58.9,144.5 M51.4,152.0 L67.8,149.9 M68.4,143.8 L67.8,149.9 L71.2,154.7 L78.0,154.0 L79.3,148.6 M71.2,154.7 L71.8,162.2 L78.0,163.5 L80.7,158.1 L78.0,154.0 M79.3,150.6 L85.4,149.2 L86.1,157.4 L80.7,158.1 M86.1,157.4 L92.2,163.5 M78.0,163.5 L78.0,174.4 M71.8,162.2 L69.1,166.2 L63.7,168.3 L56.9,173.7 M66.4,166.9 L69.8,171.0 M135.9,120.8 L145.8,124.7 L155.7,128.7 M149.1,114.8 L145.8,124.7 L143.2,135.3 M146.5,106.2 L152.4,106.8 L154.4,113.5 L149.8,115.4 L145.8,111.5 L146.5,106.2 M146.5,106.2 L145.1,97.6 M154.4,107.5 L159.7,104.8 L165.0,108.2 M159.7,104.8 L158.4,97.6 M151.8,104.2 L153.1,97.6 L151.8,91.6 L145.1,90.9 L139.8,95.6 M134.5,114.1 L136.5,110.8 L141.2,109.5 L145.8,111.5 M154.4,113.5 L157.7,118.1 L158.4,126.1 L155.7,128.7 M127.2,114.8 L134.5,113.5 L136.5,120.1 L131.9,122.1 L127.9,119.4 L127.2,114.8 M116.6,112.1 L127.2,116.1 M155.7,128.7 L163.0,128.0 L164.4,133.3 L161.7,138.0 L156.4,136.0 L155.7,128.7 M163.0,129.4 L170.3,128.7 M161.7,138.0 L166.3,145.3 L169.0,151.9 M131.9,122.1 L132.5,130.0 L128.6,133.3 M155.7,136.0 L151.8,142.0 L145.8,140.6 L143.2,135.3 M128.6,133.3 L133.9,132.0 L137.2,135.3 L135.2,141.3 L130.6,142.0 L128.6,133.3 M137.2,135.3 L143.2,135.3 L144.5,140.6 L140.5,144.6 L136.5,142.0 M130.6,142.0 L127.2,147.9 M141.8,144.6 L143.2,155.9 M118.6,132.7 L128.6,134.0 M107.6,127.7 L112.3,133.2 L112.3,143.6 M111.2,123.7 L116.3,123.7 L120.2,131.2 M111.2,123.7 L110.0,130.0 M113.9,117.4 L117.0,112.7 M120.2,115.5 L126.0,118.6"/></g></defs>
<use href="#mols" x="334" y="86.4"/>
<use href="#mols" x="521" y="200"/>
<use href="#mols" x="707" y="270"/>
<circle cx="368.9" cy="144.6" r="17.2" fill="#fff" stroke="#333" stroke-width="0.9"/><text x="370.2" y="153.0" font-family="Liberation Sans" font-size="23.5" text-anchor="middle">6</text>
<circle cx="443.3" cy="103.6" r="17.2" fill="#fff" stroke="#333" stroke-width="0.9"/><text x="445.3" y="112.0" font-family="Liberation Sans" font-size="23.5" text-anchor="middle">5</text>
<circle cx="494.2" cy="123.4" r="17.2" fill="#fff" stroke="#333" stroke-width="0.9"/><text x="495.7" y="131.8" font-family="Liberation Sans" font-size="23.5" text-anchor="middle">4</text>
<circle cx="546.5" cy="307.3" r="17.2" fill="#fff" stroke="#333" stroke-width="0.9"/><path d="M548.70,300.10 L548.70,316.90 L546.20,316.90 L546.20,304.22 C544.19,304.38 543.34,304.50 542.00,304.55 L542.00,303.09 C545.02,302.96 545.90,301.78 546.45,300.10 Z" fill="#000"/>
<circle cx="612.8" cy="356.9" r="17.2" fill="#fff" stroke="#333" stroke-width="0.9"/><text x="614.2" y="365.3" font-family="Liberation Sans" font-size="23.5" text-anchor="middle">2</text>
<circle cx="681.4" cy="321.4" r="17.2" fill="#fff" stroke="#333" stroke-width="0.9"/><text x="681.6" y="329.8" font-family="Liberation Sans" font-size="23.5" text-anchor="middle">3</text>
<circle cx="800.6" cy="429" r="17.2" fill="#fff" stroke="#333" stroke-width="0.9"/><text x="799.6" y="437.4" font-family="Liberation Sans" font-size="23.5" text-anchor="middle">2</text>
<circle cx="869.1" cy="393.4" r="17.2" fill="#fff" stroke="#333" stroke-width="0.9"/><text x="869.7" y="401.8" font-family="Liberation Sans" font-size="23.5" text-anchor="middle">3</text>
</svg>
</body></html>
